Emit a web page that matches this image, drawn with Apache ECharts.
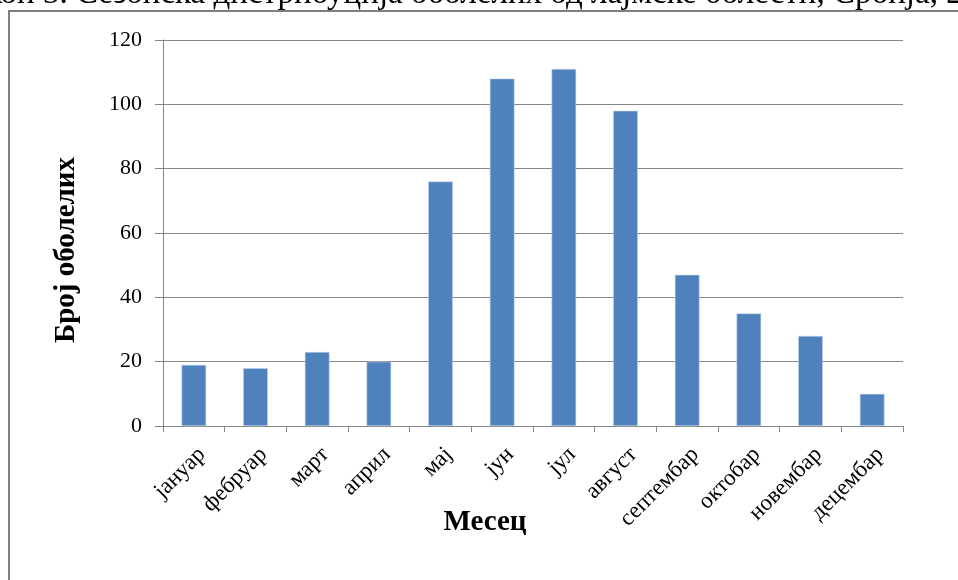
<!DOCTYPE html>
<html>
<head>
<meta charset="utf-8">
<script src="https://cdn.jsdelivr.net/npm/echarts@6/dist/echarts.min.js"></script>
<style>
  html, body { margin: 0; padding: 0; background: #fff; }
  #chart { width: 958px; height: 580px; }
</style>
</head>
<body>
<div id="chart"></div>
<script>
// Months of the year (Serbian Cyrillic)
const months = ['јануар', 'фебруар', 'март', 'април', 'мај', 'јун', 'јул', 'август', 'септембар', 'октобар', 'новембар', 'децембар'];
// Number of cases per month
const cases = [19, 18, 23, 20, 76, 108, 111, 98, 47, 35, 28, 10];
// Value axis ticks
const yTicks = [0, 20, 40, 60, 80, 100, 120];

const captionText = 'Графикон 3. Сезонска дистрибуција оболелих од лајмске болести, Србија, 2';
const serif = '"Liberation Serif", "Times New Roman", "DejaVu Serif", serif';

const chart = echarts.init(document.getElementById('chart'), null, { renderer: 'canvas' });

chart.setOption({
  animation: false,
  backgroundColor: '#ffffff',
  grid: { left: 163, right: 55, top: 40, bottom: 154, containLabel: false },
  xAxis: {
    type: 'category',
    data: months,
    boundaryGap: true,
    name: 'Месец',
    nameLocation: 'middle',
    nameGap: 82,
    nameMoveOverlap: false,
    nameTextStyle: { fontFamily: serif, fontSize: 29, fontWeight: 'bold', color: '#000', padding: [0, 96, 0, 0] },
    axisLine: { show: true, lineStyle: { color: '#868686', width: 1 } },
    axisTick: { show: true, alignWithLabel: false, length: 6, lineStyle: { color: '#868686' } },
    axisLabel: { rotate: 45, interval: 0, margin: 17, verticalAlign: 'top', fontFamily: serif, fontSize: 23, color: '#000' }
  },
  yAxis: {
    type: 'value',
    min: yTicks[0],
    max: yTicks[yTicks.length - 1],
    interval: yTicks[1] - yTicks[0],
    name: 'Број оболелих',
    nameLocation: 'middle',
    nameGap: 82,
    nameMoveOverlap: false,
    nameTextStyle: { fontFamily: serif, fontSize: 29, fontWeight: 'bold', color: '#000', padding: [0, 34, 0, 0] },
    axisLine: { show: true, lineStyle: { color: '#868686', width: 1 } },
    axisTick: { show: true, length: 8, lineStyle: { color: '#868686' } },
    axisLabel: { margin: 21, fontFamily: serif, fontSize: 22, color: '#000' },
    splitLine: { show: true, lineStyle: { color: '#868686', width: 1 } }
  },
  series: [{
    type: 'bar',
    data: cases,
    barWidth: '40%',
    itemStyle: { color: '#4F81BD', borderColor: '#c5d5ea', borderWidth: 0.6 }
  }],
  graphic: [
    {
      type: 'polyline',
      shape: { points: [[9, 600], [9, 11], [970, 11]] },
      style: { stroke: '#7f7f7f', lineWidth: 2, fill: null },
      z: 10
    },
    {
      type: 'text',
      x: -101,
      y: 11,
      style: {
        text: captionText,
        font: '33px ' + serif,
        fill: '#000',
        textAlign: 'left',
        textVerticalAlign: 'bottom'
      },
      z: 10
    }
  ]
});
</script>
</body>
</html>
